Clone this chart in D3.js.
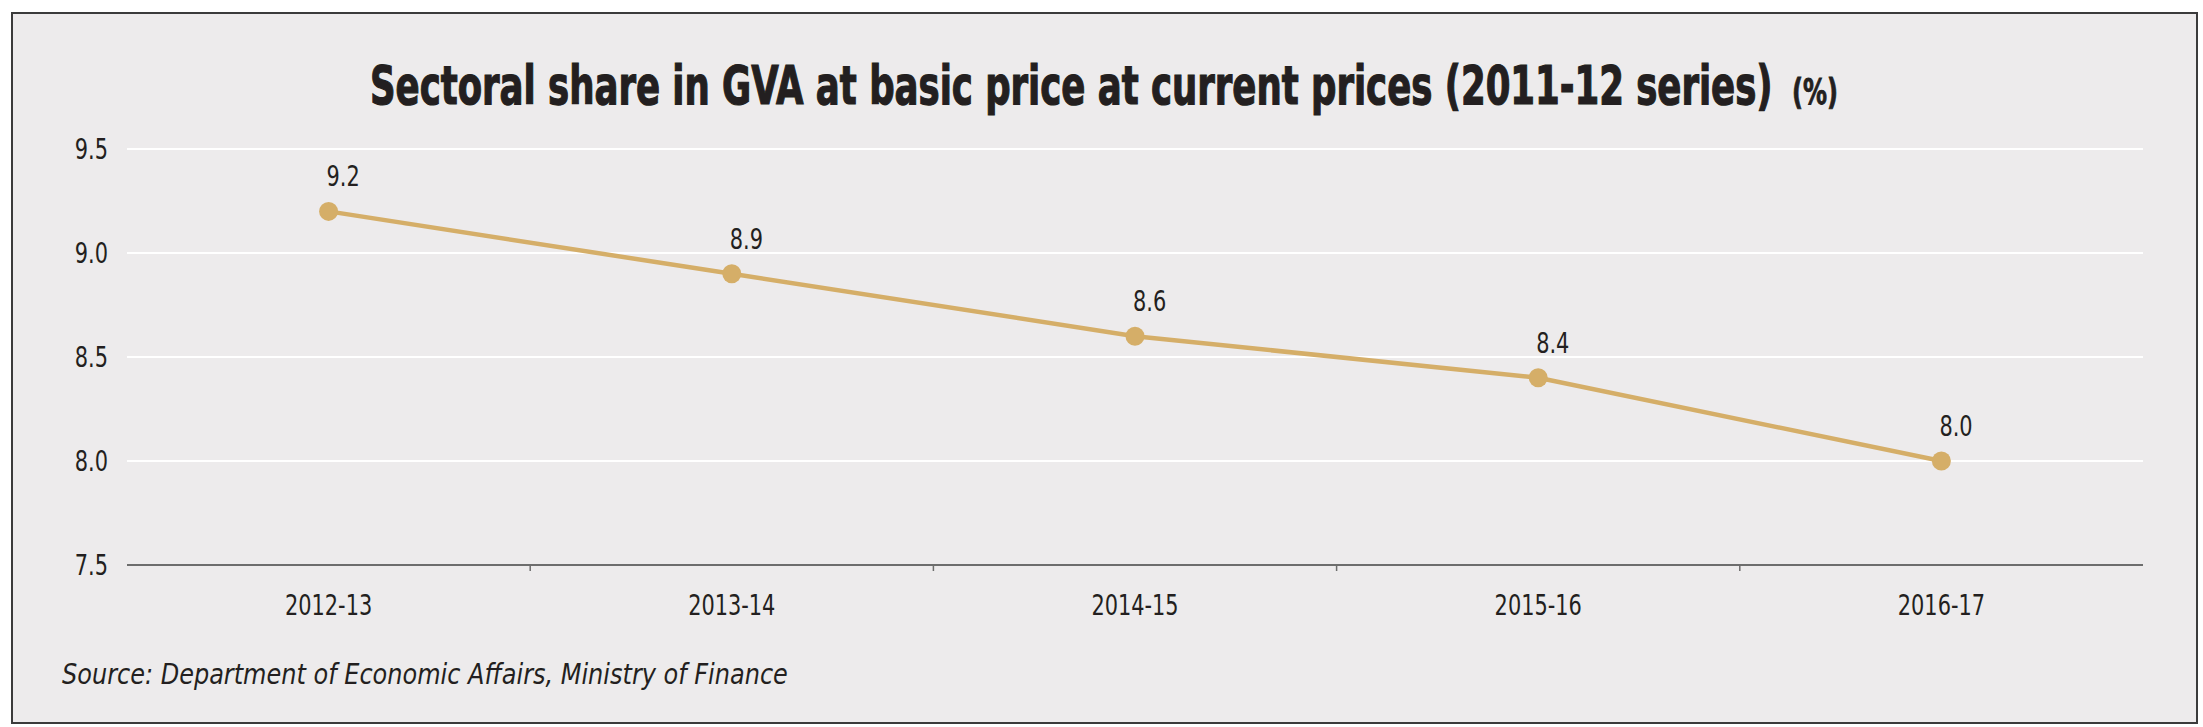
<!DOCTYPE html>
<html>
<head>
<meta charset="utf-8">
<script src="https://cdn.jsdelivr.net/npm/d3@7"></script>
<style>
    body { margin: 0; background: #ffffff; }
    text { font-family: "Liberation Sans Narrow", "DejaVu Sans Condensed", "Liberation Sans", sans-serif; fill: #231f20; }
</style>
</head>
<body>
<div id="chart"></div>
<script>
const years = ["2012-13", "2013-14", "2014-15", "2015-16", "2016-17"]
const share = [9.2, 8.9, 8.6, 8.4, 8.0]
const yTicks = [7.5, 8.0, 8.5, 9.0, 9.5]
const title = "Sectoral share in GVA at basic price at current prices (2011-12 series)"
const unit = "(%)"
const source = "Source: Department of Economic Affairs, Ministry of Finance"

const W = 2203, H = 727
const plot = { left: 127, right: 2143, top: 149, bottom: 565 }
const lineColor = "#d5ae68"
const narrow = 0.8

// squeeze text horizontally around its anchor (reference uses a condensed face)
function squeeze(sel, k) {
    sel.each(function () {
        const t = d3.select(this)
        const tx = +t.attr("x"), ty = +t.attr("y")
        t.attr("x", 0).attr("y", 0)
            .attr("transform", `translate(${tx},${ty}) scale(${k},1)`)
    })
}
// squeeze to an exact width
function fitWidth(sel, width) {
    const len = sel.node().getComputedTextLength()
    squeeze(sel, width / len)
}

const svg = d3.select("#chart").append("svg")
    .attr("width", W)
    .attr("height", H)

// panel with frame
svg.append("rect")
    .attr("x", 12).attr("y", 13)
    .attr("width", 2185).attr("height", 710)
    .attr("fill", "#edebec")
    .attr("stroke", "#3b3b3b")
    .attr("stroke-width", 2)

const x = d3.scaleBand()
    .domain(years)
    .range([plot.left, plot.right])
    .padding(0)

const y = d3.scaleLinear()
    .domain([7.5, 9.5])
    .range([plot.bottom, plot.top])

// gridlines
svg.append("g")
    .selectAll("line")
    .data(yTicks.filter(d => d > 7.5))
    .enter().append("line")
    .attr("x1", plot.left)
    .attr("x2", plot.right)
    .attr("y1", d => y(d))
    .attr("y2", d => y(d))
    .attr("stroke", "#ffffff")
    .attr("stroke-width", 2)

// y labels
svg.append("g")
    .selectAll("text")
    .data(yTicks)
    .enter().append("text")
    .attr("x", 108)
    .attr("y", d => y(d) + 10)
    .attr("text-anchor", "end")
    .style("font-size", "29px")
    .text(d => d3.format(".1f")(d))
    .call(squeeze, narrow)

// x axis line + ticks between categories
svg.append("line")
    .attr("x1", plot.left).attr("x2", plot.right)
    .attr("y1", y(7.5)).attr("y2", y(7.5))
    .attr("stroke", "#6d6d6d")
    .attr("stroke-width", 2)

svg.append("g")
    .selectAll("line")
    .data(years.slice(1))
    .enter().append("line")
    .attr("x1", d => x(d)).attr("x2", d => x(d))
    .attr("y1", y(7.5)).attr("y2", y(7.5) + 6)
    .attr("stroke", "#6d6d6d")
    .attr("stroke-width", 1.5)

svg.append("g")
    .selectAll("text")
    .data(years)
    .enter().append("text")
    .attr("x", d => x(d) + x.bandwidth() / 2)
    .attr("y", 615)
    .attr("text-anchor", "middle")
    .style("font-size", "29px")
    .text(d => d)
    .call(squeeze, narrow)

// line + points
const pts = years.map((yr, i) => ({ year: yr, value: share[i] }))
const cx = d => x(d.year) + x.bandwidth() / 2

svg.append("path")
    .datum(pts)
    .attr("fill", "none")
    .attr("stroke", lineColor)
    .attr("stroke-width", 4.5)
    .attr("d", d3.line().x(cx).y(d => y(d.value)))

svg.append("g")
    .selectAll("circle")
    .data(pts)
    .enter().append("circle")
    .attr("cx", cx)
    .attr("cy", d => y(d.value))
    .attr("r", 9.5)
    .attr("fill", lineColor)

svg.append("g")
    .selectAll("text")
    .data(pts)
    .enter().append("text")
    .attr("x", d => cx(d) - 2)
    .attr("y", d => y(d.value) - 25)
    .style("font-size", "29px")
    .text(d => d3.format(".1f")(d.value))
    .call(squeeze, narrow)

// title
svg.append("text")
    .attr("x", 370)
    .attr("y", 104)
    .style("font-size", "54px")
    .style("font-weight", "bold")
    .style("stroke", "#231f20")
    .style("stroke-width", 1.2)
    .text(title)
    .call(fitWidth, 1403)

svg.append("text")
    .attr("x", 1792)
    .attr("y", 104)
    .style("font-size", "36px")
    .style("font-weight", "bold")
    .style("stroke", "#231f20")
    .style("stroke-width", 0.8)
    .text(unit)
    .call(fitWidth, 46)

// source
svg.append("text")
    .attr("x", 62)
    .attr("y", 684)
    .style("font-size", "29px")
    .style("font-style", "italic")
    .text(source)
    .call(fitWidth, 726)
</script>
</body>
</html>
